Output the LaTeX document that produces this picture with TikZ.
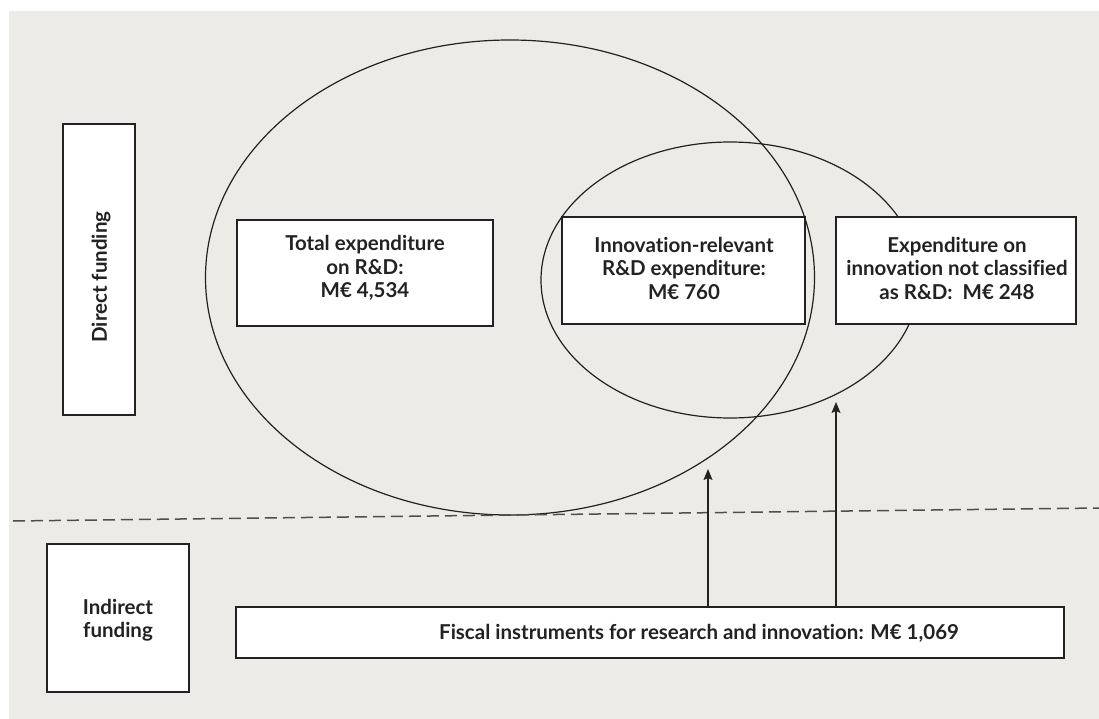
\documentclass[tikz,border=0pt]{standalone}
\usepackage{fontspec}
\setmainfont{Lato}[Ligatures={NoCommon,NoRare,NoContextual}]
\usetikzlibrary{arrows.meta}
\definecolor{bggray}{HTML}{EDEBE7}
\definecolor{ink}{HTML}{222222}
\tikzset{
  box/.style={draw=ink, line width=1.4pt, fill=white, inner sep=0pt},
  lbl/.style={font=\fontsize{20.5}{23.5}\selectfont\bfseries, text=ink, align=center, inner sep=0pt},
  circ/.style={draw=ink, line width=1.2pt},
  up/.style={draw=ink, line width=1.2pt, -{Stealth[length=11pt,width=9pt,inset=2pt]}},
}
\begin{document}
\begin{tikzpicture}[x=1pt,y=-1pt]
\useasboundingbox (0,0) rectangle (1099,719);
\fill[bggray] (9,11) rectangle (1099,719);
% ellipses
\draw[circ] (510,277.5) ellipse [x radius=304.5, y radius=237.5];
\draw[circ] (730,280) ellipse [x radius=189, y radius=138];
% dashed divider
\coordinate (dl) at (13,521);
\coordinate (dr) at (1099,508);
\draw[draw=ink!80, line width=1.5pt, dash pattern=on 12pt off 6pt] (dl) -- (dr);
% boxes
\node[box, minimum width=72, minimum height=291] (direct) at (99,269.5) {};
\node[lbl, rotate=90] (directlbl) at (101,277) {Direct funding};
\node[box, minimum width=142, minimum height=148] (indirect) at (118,618) {};
\node[lbl] (indirectlbl) at (118,620) {Indirect\\funding};
\node[box, minimum width=256, minimum height=106] (total) at (365,273) {};
\node[lbl] (totallbl) at (365,268) {Total expenditure\\on R\&D:\\M€ 4,534};
\node[box, minimum width=243, minimum height=107] (innov) at (683.5,270.5) {};
\node[lbl] (innovlbl) at (684,268) {Innovation-relevant\\R\&D expenditure:\\M€ 760};
\node[box, minimum width=240, minimum height=107] (expend) at (956,270.5) {};
\node[lbl] (expendlbl) at (957,268) {Expenditure on\\innovation not classified\\as R\&D:\ \ M€ 248};
\node[box, minimum width=828, minimum height=51] (fiscal) at (650,632.5) {};
\node[lbl] (fiscallbl) at (699,633) {Fiscal instruments for research and innovation: M€ 1,069};
% arrows
\coordinate (a1) at (708,469);
\coordinate (a2) at (836,402);
\draw[up] (a1 |- fiscal.north) -- (a1);
\draw[up] (a2 |- fiscal.north) -- (a2);
\end{tikzpicture}
\end{document}
